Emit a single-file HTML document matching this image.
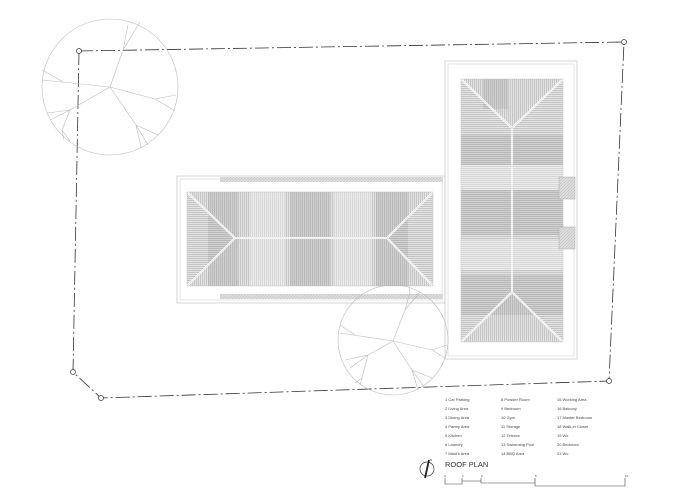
<!DOCTYPE html>
<html><head><meta charset="utf-8"><style>
html,body{margin:0;padding:0;background:#fff;}
svg{display:block;font-family:"Liberation Sans",sans-serif;}
</style></head><body>
<svg width="700" height="495" viewBox="0 0 700 495" xmlns="http://www.w3.org/2000/svg">
<defs>
<pattern id="v" width="2" height="4" patternUnits="userSpaceOnUse"><rect width="2" height="4" fill="#e2e2e2"/><line x1="0.5" y1="0" x2="0.5" y2="4" stroke="#aaa" stroke-width="0.5"/></pattern>
<pattern id="h" width="4" height="2" patternUnits="userSpaceOnUse"><rect width="4" height="2" fill="#e2e2e2"/><line x1="0" y1="0.5" x2="4" y2="0.5" stroke="#aaa" stroke-width="0.5"/></pattern>
<pattern id="g" width="3" height="3" patternUnits="userSpaceOnUse"><rect width="3" height="3" fill="#ddd"/><line x1="0" y1="3" x2="3" y2="0" stroke="#aaa" stroke-width="0.4"/></pattern>
</defs>

<!-- boundary -->
<polyline points="79,51 624,42 609,381 101,398 73,372 79,51" fill="none" stroke="#333" stroke-width="0.8" stroke-dasharray="14,3,2,3"/>
<g fill="#fff" stroke="#333" stroke-width="0.7">
<circle cx="79" cy="51" r="2.5"/><circle cx="624" cy="42" r="2.5"/><circle cx="609" cy="381" r="2.5"/><circle cx="101" cy="398" r="2.5"/><circle cx="73" cy="372" r="2.5"/>
</g>

<!-- left building -->
<rect x="177" y="176" width="268" height="127" fill="#fff" stroke="#bbb" stroke-width="0.6"/>
<rect x="180" y="179" width="262" height="121" fill="none" stroke="#ccc" stroke-width="0.5"/>
<rect x="220" y="177" width="223" height="5" fill="url(#g)"/>
<rect x="220" y="294" width="223" height="5" fill="url(#g)"/>
<g>
<polygon points="187,192 235,238 187,286" fill="url(#h)"/>
<polygon points="433,192 387,238 433,286" fill="url(#h)"/>
<polygon points="187,192 433,192 387,238 235,238" fill="url(#v)"/>
<polygon points="187,286 433,286 387,238 235,238" fill="url(#v)"/>
<rect x="208" y="192" width="30" height="94" fill="#999" opacity="0.25"/>
<rect x="290" y="192" width="40" height="94" fill="#999" opacity="0.25"/>
<rect x="376" y="192" width="32" height="94" fill="#999" opacity="0.25"/>
<rect x="250" y="192" width="35" height="94" fill="#fff" opacity="0.3"/>
<rect x="334" y="192" width="38" height="94" fill="#fff" opacity="0.3"/>
</g>
<g stroke="#fff" stroke-width="2" fill="none">
<polyline points="187,192 235,238 187,286"/><polyline points="433,192 387,238 433,286"/><line x1="235" y1="238" x2="387" y2="238"/>
</g>
<g stroke="#bbb" stroke-width="0.4" fill="none">
<polyline points="187,192 235,238 187,286"/><polyline points="433,192 387,238 433,286"/><line x1="235" y1="238" x2="387" y2="238"/>
<rect x="187" y="192" width="246" height="94"/>
</g>

<!-- right building -->
<rect x="445" y="61" width="132" height="298" fill="#fff" stroke="#bbb" stroke-width="0.6"/>
<rect x="448" y="64" width="126" height="292" fill="none" stroke="#ccc" stroke-width="0.5"/>
<polygon points="461,79 563,79 512,128" fill="url(#v)"/>
<polygon points="461,342 563,342 512,292" fill="url(#v)"/>
<polygon points="461,79 512,128 512,292 461,342" fill="url(#h)"/>
<polygon points="563,79 512,128 512,292 563,342" fill="url(#h)"/>
<rect x="461" y="135" width="102" height="30" fill="#999" opacity="0.25"/>
<rect x="461" y="190" width="102" height="45" fill="#999" opacity="0.25"/>
<rect x="461" y="275" width="102" height="40" fill="#999" opacity="0.25"/>
<rect x="461" y="165" width="102" height="25" fill="#fff" opacity="0.3"/>
<rect x="461" y="240" width="102" height="30" fill="#fff" opacity="0.3"/>
<rect x="483" y="79" width="25" height="30" fill="#999" opacity="0.25"/>
<g stroke="#fff" stroke-width="2" fill="none">
<polyline points="461,79 512,128 563,79"/><polyline points="461,342 512,292 563,342"/><line x1="512" y1="128" x2="512" y2="292"/>
</g>
<g stroke="#bbb" stroke-width="0.4" fill="none">
<polyline points="461,79 512,128 563,79"/><polyline points="461,342 512,292 563,342"/><line x1="512" y1="128" x2="512" y2="292"/>
<rect x="461" y="79" width="102" height="263"/>
</g>
<rect x="559" y="177" width="16" height="22" fill="url(#g)" stroke="#aaa" stroke-width="0.5"/>
<rect x="559" y="227" width="16" height="22" fill="url(#g)" stroke="#aaa" stroke-width="0.5"/>

<!-- trees -->
<g stroke="#bbb" stroke-width="0.6" fill="none">
<circle cx="110" cy="87" r="68"/>
<polyline points="110,87 123,50 128,25"/><polyline points="123,50 140,22"/>
<polyline points="110,87 42,80"/><polyline points="63,82 42,70"/>
<polyline points="110,87 70,110 48,113"/><polyline points="70,110 50,120"/>
<polyline points="70,110 62,130 64,140"/><polyline points="62,130 70,141"/>
<polyline points="110,87 136,125 141,147"/><polyline points="136,125 158,135"/><polyline points="136,125 148,145"/>
<polyline points="110,87 155,99 176,95"/><polyline points="155,99 175,111"/>
<circle cx="393" cy="340" r="55"/>
<polyline points="393,341 405,310 410,292"/><polyline points="405,310 420,292"/><polyline points="410,292 409,287"/>
<polyline points="393,341 340,333"/><polyline points="355,335 340,325"/>
<polyline points="393,341 368,355 345,360"/><polyline points="368,355 350,368"/>
<polyline points="368,355 362,378 355,383"/><polyline points="362,378 360,385"/>
<polyline points="393,341 412,370 418,390"/><polyline points="412,370 432,378"/><polyline points="412,370 425,388"/>
<polyline points="393,341 432,350 447,345"/><polyline points="432,350 445,358"/>
</g>

<!-- legend -->
<g font-size="4" fill="#444">
<text x="445" y="401">1 Car Parking</text><text x="445" y="410">2 Living Area</text><text x="445" y="419">3 Dining Area</text><text x="445" y="428">4 Pantry Area</text><text x="445" y="437">5 Kitchen</text><text x="445" y="446">6 Laundry</text><text x="445" y="455">7 Maid's Area</text>
<text x="501" y="401">8 Powder Room</text><text x="501" y="410">9 Bedroom</text><text x="501" y="419">10 Gym</text><text x="501" y="428">11 Storage</text><text x="501" y="437">12 Terrace</text><text x="501" y="446">13 Swimming Pool</text><text x="501" y="455">14 BBQ Area</text>
<text x="557" y="401">15 Working Area</text><text x="557" y="410">16 Balcony</text><text x="557" y="419">17 Master Bedroom</text><text x="557" y="428">18 Walk-in Closet</text><text x="557" y="437">19 Wc</text><text x="557" y="446">20 Bedroom</text><text x="557" y="455">21 Wc</text>
</g>
<text x="445" y="467" font-size="7.5" fill="#333">ROOF PLAN</text>
<circle cx="427" cy="469" r="7" fill="none" stroke="#333" stroke-width="0.7"/>
<line x1="429" y1="460" x2="425" y2="478" stroke="#222" stroke-width="1.8"/>
<text x="430" y="461" font-size="3" fill="#333">N</text>
<polyline points="445,478 445,484 462,484 462,478 462,481 481,481 481,478 481,483 535,483 535,478 535,486 625,486 625,478" fill="none" stroke="#444" stroke-width="0.6"/>
<g font-size="3" fill="#444"><text x="444" y="477">0</text><text x="462" y="477">1</text><text x="481" y="477">2</text><text x="535" y="477">5</text><text x="625" y="477">10</text></g>
</svg>
</body></html>
